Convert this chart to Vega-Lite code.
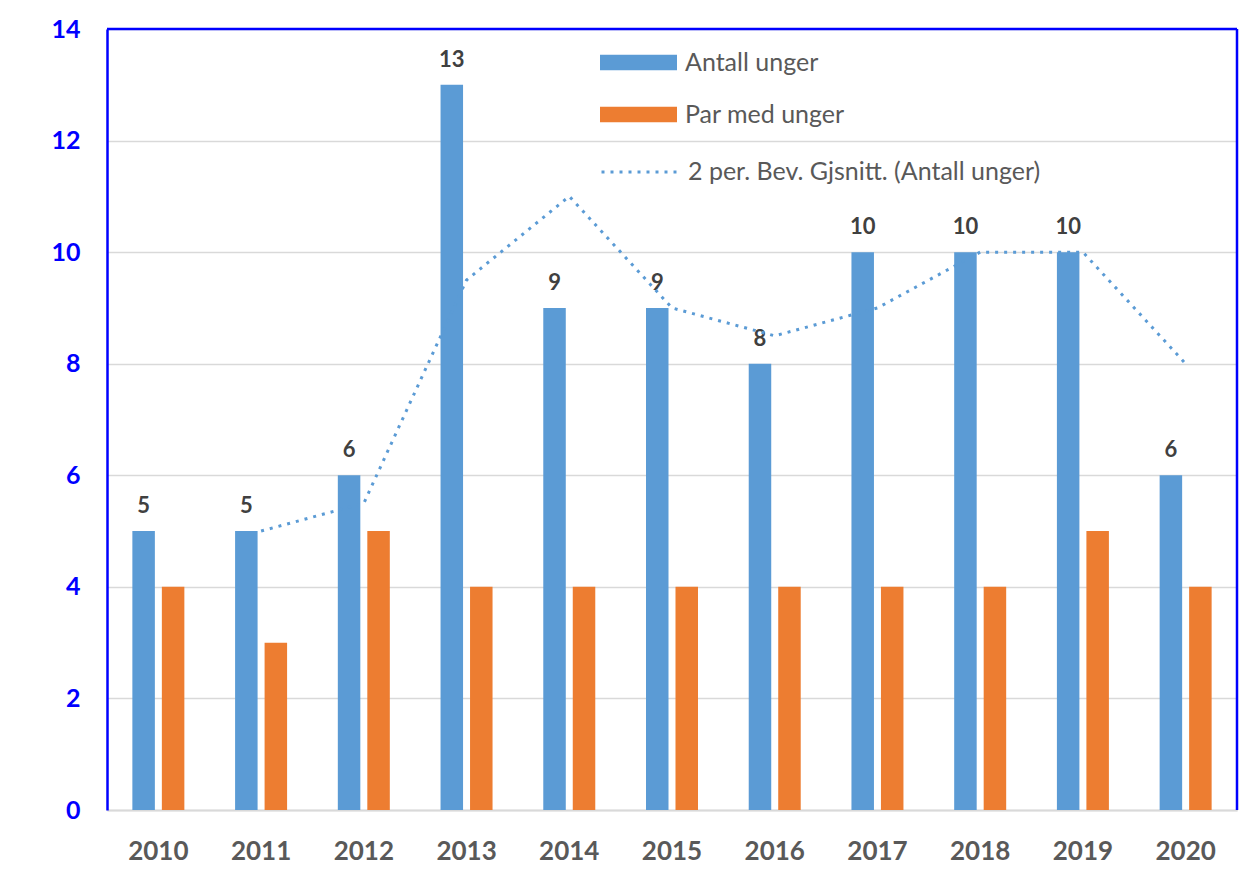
{
  "$schema": "https://vega.github.io/schema/vega-lite/v6.json",
  "width": 1130,
  "height": 781,
  "autosize": {"type": "none"},
  "padding": {"left": 107, "top": 29, "right": 12, "bottom": 66},
  "background": "white",
  "config": {
    "font": "Lato",
    "view": {"stroke": null}
  },
  "datasets": {
    "bars": [
      {"year": "2010", "series": "Antall unger", "value": 5},
      {"year": "2010", "series": "Par med unger", "value": 4},
      {"year": "2011", "series": "Antall unger", "value": 5},
      {"year": "2011", "series": "Par med unger", "value": 3},
      {"year": "2012", "series": "Antall unger", "value": 6},
      {"year": "2012", "series": "Par med unger", "value": 5},
      {"year": "2013", "series": "Antall unger", "value": 13},
      {"year": "2013", "series": "Par med unger", "value": 4},
      {"year": "2014", "series": "Antall unger", "value": 9},
      {"year": "2014", "series": "Par med unger", "value": 4},
      {"year": "2015", "series": "Antall unger", "value": 9},
      {"year": "2015", "series": "Par med unger", "value": 4},
      {"year": "2016", "series": "Antall unger", "value": 8},
      {"year": "2016", "series": "Par med unger", "value": 4},
      {"year": "2017", "series": "Antall unger", "value": 10},
      {"year": "2017", "series": "Par med unger", "value": 4},
      {"year": "2018", "series": "Antall unger", "value": 10},
      {"year": "2018", "series": "Par med unger", "value": 4},
      {"year": "2019", "series": "Antall unger", "value": 10},
      {"year": "2019", "series": "Par med unger", "value": 5},
      {"year": "2020", "series": "Antall unger", "value": 6},
      {"year": "2020", "series": "Par med unger", "value": 4}
    ],
    "avg": [
      {"year": "2011", "line": "2 per. Bev. Gjsnitt. (Antall unger)", "value": 5},
      {"year": "2012", "line": "2 per. Bev. Gjsnitt. (Antall unger)", "value": 5.5},
      {"year": "2013", "line": "2 per. Bev. Gjsnitt. (Antall unger)", "value": 9.5},
      {"year": "2014", "line": "2 per. Bev. Gjsnitt. (Antall unger)", "value": 11},
      {"year": "2015", "line": "2 per. Bev. Gjsnitt. (Antall unger)", "value": 9},
      {"year": "2016", "line": "2 per. Bev. Gjsnitt. (Antall unger)", "value": 8.5},
      {"year": "2017", "line": "2 per. Bev. Gjsnitt. (Antall unger)", "value": 9},
      {"year": "2018", "line": "2 per. Bev. Gjsnitt. (Antall unger)", "value": 10},
      {"year": "2019", "line": "2 per. Bev. Gjsnitt. (Antall unger)", "value": 10},
      {"year": "2020", "line": "2 per. Bev. Gjsnitt. (Antall unger)", "value": 8}
    ]
  },
  "layer": [
    {
      "data": {"name": "bars"},
      "mark": {"type": "bar"},
      "encoding": {
        "x": {
          "field": "year",
          "type": "nominal",
          "scale": {"paddingInner": 0, "paddingOuter": 0},
          "axis": {
            "title": null,
            "labelAngle": 0,
            "labelFontSize": 26,
            "labelFontWeight": "bold",
            "labelColor": "#595959",
            "labelPadding": 28,
            "ticks": false,
            "domainColor": "#d9d9d9",
            "domainWidth": 2
          }
        },
        "y": {
          "field": "value",
          "type": "quantitative",
          "scale": {"domain": [0, 14], "nice": false},
          "axis": {
            "title": null,
            "format": "d",
            "values": [0, 2, 4, 6, 8, 10, 12, 14],
            "labelFontSize": 25,
            "labelFontWeight": "bold",
            "labelColor": "#0000ff",
            "labelPadding": 27,
            "ticks": false,
            "domain": true,
            "domainColor": "#0000ff",
            "domainWidth": 2.5,
            "gridColor": "#d9d9d9",
            "gridWidth": 1.5
          }
        },
        "xOffset": {
          "field": "series",
          "type": "nominal",
          "scale": {"domain": ["Antall unger", "Par med unger"], "paddingInner": 0.237, "paddingOuter": 0.86}
        },
        "color": {
          "field": "series",
          "type": "nominal",
          "scale": {
            "domain": ["Antall unger", "Par med unger"],
            "range": ["#5b9bd5", "#ed7d31"]
          },
          "legend": {
            "orient": "none",
            "legendX": 493,
            "legendY": -5,
            "title": null,
            "padding": 0,
            "labelFontSize": 25,
            "labelColor": "#595959",
            "labelOffset": 8,
            "rowPadding": -20,
            "symbolSize": 5929,
            "symbolStrokeWidth": 0,
            "symbolType": "M-1,-0.2H1V0.2H-1Z"
          }
        }
      }
    },
    {
      "data": {"name": "bars"},
      "transform": [{"filter": "datum.series === 'Antall unger'"}],
      "mark": {"type": "text", "baseline": "bottom", "dy": -13, "fontSize": 22, "fontWeight": "bold", "color": "#404040"},
      "encoding": {
        "x": {"field": "year", "type": "nominal"},
        "y": {"field": "value", "type": "quantitative"},
        "xOffset": {"field": "series", "type": "nominal"},
        "text": {"field": "value", "type": "quantitative"}
      }
    },
    {
      "data": {"name": "avg"},
      "mark": {"type": "line", "strokeWidth": 3, "strokeCap": "butt", "color": "#5b9bd5"},
      "encoding": {
        "x": {"field": "year", "type": "nominal"},
        "y": {"field": "value", "type": "quantitative"},
        "strokeDash": {
          "field": "line",
          "type": "nominal",
          "scale": {"range": [[3, 6]]},
          "legend": {
            "orient": "none",
            "legendX": 493,
            "legendY": 103,
            "title": null,
            "padding": 0,
            "labelFontSize": 25,
            "labelColor": "#595959",
            "labelOffset": 8,
            "labelLimit": 600,
            "symbolSize": 5929,
            "symbolType": "stroke",
            "symbolStrokeWidth": 3,
            "symbolStrokeColor": "#5b9bd5"
          }
        }
      }
    },
    {
      "data": {"values": [{"value": 14}]},
      "mark": {"type": "rule", "color": "#0000ff", "strokeWidth": 2.5},
      "encoding": {"y": {"field": "value", "type": "quantitative"}}
    },
    {
      "data": {"values": [{"year": "2020"}]},
      "mark": {"type": "rule", "color": "#0000ff", "strokeWidth": 2.5},
      "encoding": {"x": {"field": "year", "type": "nominal", "bandPosition": 1}}
    }
  ]
}
